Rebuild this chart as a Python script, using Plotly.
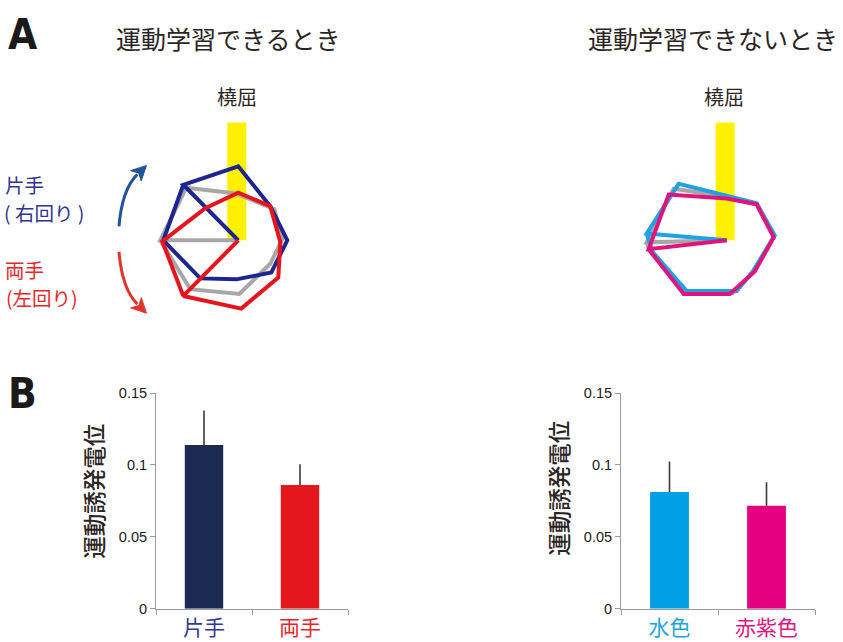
import math
import plotly.graph_objects as go

W, H = 843, 642

# ---------------- Panel A data: wrist trajectories (offsets from the pivot; x right, y up)
# 運動学習できるとき
learn_gray_x = [0, -78, -52, -2, 36, 44, 32, 1, -48, -78]
learn_gray_y = [0, 0, 54, 48, 32, 1, -24, -55, -50, 0]
learn_one_x = [0, -55, 0, 32, 49, 33, -2, -38, -75, -55]      # 片手 (右回り)
learn_one_y = [0, 57, 76, 35, 0, -33, -40, -39, 0, 57]
learn_two_x = [0, -55, 3, 40, 42, 32, 0, -33, -76, -55]       # 両手 (左回り)
learn_two_y = [0, -57, -70, -38, -2, 35, 49, 33, -1, -57]

# 運動学習できないとき
nolearn_gray_x = [0, -80, -53, -2, 30, 47, 27, 6, -42, -77, -80]
nolearn_gray_y = [0, -2, 53, 45, 37, 4, -32, -54, -54, -11, -2]
nolearn_cyan_x = [0, -80, -48, 30, 48, 26, 10, -40, -74, -80]     # 水色
nolearn_cyan_y = [0, 7, 58, 38, 5, -32, -52, -52, -12, 7]
nolearn_mag_x = [0, -78, -58, 0, 30, 47, 28, 3, -43, -78]         # 赤紫色
nolearn_mag_y = [0, -9, 47, 43, 37, 3, -32, -55, -55, -9]

# ---------------- Panel B data
left_cats = ["片手", "両手"]
left_vals = [0.114, 0.086]
left_errs = [0.024, 0.0145]
right_cats = ["水色", "赤紫色"]
right_vals = [0.0812, 0.0716]
right_errs = [0.0213, 0.0164]
y_ticks = [0, 0.05, 0.1, 0.15]
y_ticktext = ["0", "0.05", "0.1", "0.15"]

# ---------------- styles
C_GRAY = "#a7a7a7"
C_BLUE_LINE = "#1d2690"
C_RED_LINE = "#e8141c"
C_CYAN_LINE = "#1ea2e2"
C_MAG_LINE = "#e0147f"
C_YELLOW = "#fff100"
C_TEXT = "#2b2523"
C_BLUE_TXT = "#2e3494"
C_RED_TXT = "#e8262a"
BAR_COLORS_L = ["#1b2a50", "#e5181d"]
BAR_COLORS_R = ["#00a0e6", "#e4007f"]
TXT_COL_L = ["#2e3a9c", "#e8262a"]
TXT_COL_R = ["#1aa3e3", "#e4147f"]
JP = "Noto Sans CJK JP"
NUM = "Liberation Sans, Arial, sans-serif"
LBL = "Liberation Sans Narrow, DejaVu Sans Condensed, Arial Narrow, sans-serif"


def px(x):
    return x / W


def py(y):
    return 1 - y / H


fig = go.Figure()


def traj(x, y, color, xa, ya):
    fig.add_trace(go.Scatter(x=x, y=y, mode="lines", xaxis=xa, yaxis=ya,
                             line=dict(color=color, width=4),
                             hoverinfo="skip", showlegend=False))


traj(learn_gray_x, learn_gray_y, C_GRAY, "x", "y")
traj(learn_one_x, learn_one_y, C_BLUE_LINE, "x", "y")
traj(learn_two_x, learn_two_y, C_RED_LINE, "x", "y")
traj(nolearn_gray_x, nolearn_gray_y, C_GRAY, "x2", "y2")
traj(nolearn_cyan_x, nolearn_cyan_y, C_CYAN_LINE, "x2", "y2")
traj(nolearn_mag_x, nolearn_mag_y, C_MAG_LINE, "x2", "y2")

err_style = dict(type="data", symmetric=False, color="#3a3a3a", thickness=1.6, width=0)
fig.add_trace(go.Bar(x=left_cats, y=left_vals, width=0.4, xaxis="x3", yaxis="y3",
                     marker=dict(color=BAR_COLORS_L, line=dict(width=0)),
                     error_y=dict(array=left_errs, arrayminus=[0, 0], **err_style),
                     showlegend=False))
fig.add_trace(go.Bar(x=right_cats, y=right_vals, width=0.4, xaxis="x4", yaxis="y4",
                     marker=dict(color=BAR_COLORS_R, line=dict(width=0)),
                     error_y=dict(array=right_errs, arrayminus=[0, 0], **err_style),
                     showlegend=False))

hidden = dict(visible=False, showgrid=False, zeroline=False, fixedrange=True)
ydom_a = [py(330), py(100)]
layout = dict(
    width=W, height=H, margin=dict(l=0, r=0, t=0, b=0),
    paper_bgcolor="white", plot_bgcolor="rgba(0,0,0,0)", showlegend=False,
    xaxis=dict(domain=[px(130), px(330)], range=[130 - 238.3, 330 - 238.3], anchor="y", **hidden),
    yaxis=dict(domain=ydom_a, range=[238.3 - 330, 238.3 - 100], anchor="x", **hidden),
    xaxis2=dict(domain=[px(620), px(820)], range=[620 - 726.7, 820 - 726.7], anchor="y2", **hidden),
    yaxis2=dict(domain=ydom_a, range=[238.3 - 330, 238.3 - 100], anchor="x2", **hidden),
)


def bar_axes(xdom, cats, cols):
    xa = dict(domain=xdom, type="category", range=[-0.5, 1.5], tickson="boundaries",
              ticks="outside", ticklen=5, tickcolor="#9a9a9a", showline=True,
              linecolor="#9a9a9a", linewidth=1, showgrid=False, zeroline=False,
              tickmode="array", tickvals=cats,
              ticktext=[f"<span style='color:{c}'>{t}</span>" for t, c in zip(cats, cols)],
              tickfont=dict(family=JP, size=21), fixedrange=True)
    ya = dict(domain=[py(616), py(395)], range=[0, 0.15], tickmode="array",
              tickvals=y_ticks, ticktext=y_ticktext, ticks="outside", ticklen=5,
              tickcolor="#9a9a9a", showline=True, linecolor="#9a9a9a", linewidth=1,
              showgrid=False, zeroline=False,
              tickfont=dict(family=NUM, size=14.5, color="#1a1a1a"),
              fixedrange=True)
    return xa, ya


xa3, ya3 = bar_axes([px(156), px(348)], left_cats, TXT_COL_L)
xa4, ya4 = bar_axes([px(621), px(815)], right_cats, TXT_COL_R)
xa3["anchor"] = "y3"; ya3["anchor"] = "x3"
xa4["anchor"] = "y4"; ya4["anchor"] = "x4"
layout.update(xaxis3=xa3, yaxis3=ya3, xaxis4=xa4, yaxis4=ya4)

shapes = []
# yellow radial-flexion markers
for xr, yr in (("x", "y"), ("x2", "y2")):
    shapes.append(dict(type="rect", xref=xr, yref=yr, x0=-11, x1=8, y0=0, y1=121,
                       fillcolor=C_YELLOW, line=dict(width=0), layer="below"))


def P(x, y):
    return f"{px(x):.5f},{py(y):.5f}"


def curved_arrow(p0, p1, tip, color):
    dx, dy = tip[0] - p1[0], tip[1] - p1[1]
    n = math.hypot(dx, dy)
    ux, uy = dx / n, dy / n
    hl, hw = 15, 7.5
    bx, by = tip[0] - ux * hl, tip[1] - uy * hl
    wx, wy = -uy, ux
    shapes.append(dict(type="path", xref="paper", yref="paper",
                       path=f"M{P(*p0)} Q{P(*p1)} {P(bx + ux * 2, by + uy * 2)}",
                       line=dict(color=color, width=3)))
    shapes.append(dict(type="path", xref="paper", yref="paper",
                       path=f"M{P(*tip)} L{P(bx + wx * hw, by + wy * hw)} "
                            f"L{P(bx + ux * 4, by + uy * 4)} L{P(bx - wx * hw, by - wy * hw)} Z",
                       fillcolor=color, line=dict(color=color, width=1)))


curved_arrow((119, 224), (122, 186), (146.5, 161.5), "#23529e")
curved_arrow((119, 250), (122, 288), (146.5, 313), "#e0352c")
layout["shapes"] = shapes

ann = []


def txt(text, x, y, size, color=C_TEXT, family=JP, xanchor="center", angle=0, weight=None):
    font = dict(family=family, size=size, color=color)
    if weight:
        font["weight"] = weight
    ann.append(dict(text=text, x=px(x), y=py(y), xref="paper", yref="paper",
                    xanchor=xanchor, yanchor="middle", showarrow=False, textangle=angle,
                    align="left", font=font, borderpad=0))


txt("<b>A</b>", 7, 27, 42, "#1a1a1a", LBL, "left")
txt("<b>B</b>", 7, 395, 42, "#1a1a1a", LBL, "left")
txt("運動学習できるとき", 228, 31, 25)
txt("運動学習できないとき", 713, 31, 25)
txt("橈屈", 237, 91, 20)
txt("橈屈", 724, 91, 20)
txt("片手", 4, 181, 19.5, C_BLUE_TXT, JP, "left")
txt("( 右回り )", 3, 210, 19.5, C_BLUE_TXT, JP, "left")
txt("両手", 4, 268.5, 19.5, C_RED_TXT, JP, "left")
txt("(左回り)", 5, 297, 19.5, C_RED_TXT, JP, "left")
txt("運動誘発電位", 93, 496, 22.5, C_TEXT, JP, "center", -90, 500)
txt("運動誘発電位", 558, 493, 22.5, C_TEXT, JP, "center", -90, 500)
layout["annotations"] = ann

fig.update_layout(**layout)
fig.write_html("out.html")
